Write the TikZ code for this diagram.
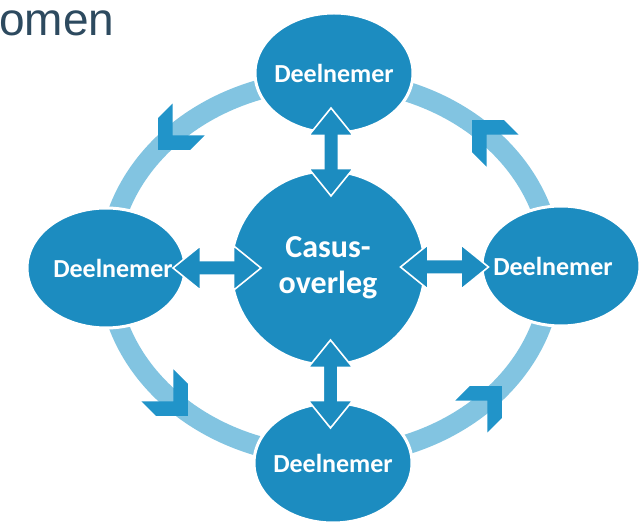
\documentclass[tikz,border=0pt]{standalone}
\usepackage{fontspec}
\setmainfont{Carlito}
\newfontfamily\titelfont{Liberation Sans}
\usetikzlibrary{shapes.geometric,shapes.arrows,calc}
\definecolor{kern}{RGB}{28,140,192}
\definecolor{ring}{RGB}{130,196,225}
\definecolor{pijl}{RGB}{33,148,201}
\definecolor{titel}{RGB}{45,74,95}
\begin{document}
\begin{tikzpicture}[x=1pt,y=1pt,
	deelnemer/.style={ellipse,fill=kern,draw=white,line width=3pt,
		minimum width=158pt,minimum height=120pt,inner sep=0pt,
		text=white,font=\fontsize{26}{30}\selectfont\bfseries},
	wissel/.style={double arrow,fill=kern,draw=white,line width=1.6pt,
		inner sep=0pt,inner ysep=6.5pt,double arrow head extend=15pt,
		double arrow tip angle=78,minimum height=88pt}]
\useasboundingbox (0,0) rectangle (640,525);
\node[anchor=base west,inner sep=0pt,text=titel,
	font=\titelfont\fontsize{46}{56}\selectfont] (titel) at (-1,489) {omen};
\draw[ring,line width=20pt] (330,257) ellipse [x radius=222,y radius=188];
\foreach \a/\r in {45/135,135/225,225/315,315/45}{
\fill[pijl,shift={(330,257)},shift={(\a:222pt and 188pt)},rotate=\r]
	(21,0)--(-1.6,22.6)--(-22,22.6)--(0.6,0)--(-22,-22.6)--(-1.6,-22.6)--cycle;
};
\node[circle,fill=kern,draw=white,line width=3pt,minimum size=194pt,
	inner sep=0pt,text=white,align=center,
	font=\fontsize{32}{36}\selectfont\bfseries] (overleg) at (328,257)
	{Casus-\\overleg};
\node[deelnemer] (boven) at (334,452) {\makebox[0pt]{Deelnemer}};
\node[deelnemer] (links) at (106,257) {\makebox[0pt]{\hspace*{14pt}Deelnemer}};
\node[deelnemer] (rechts) at (561,259) {\makebox[0pt]{Deelnemer\hspace*{16pt}}};
\node[deelnemer] (onder) at (333,62) {\makebox[0pt]{Deelnemer}};
\node[wissel,rotate=90] (w-boven) at ($(overleg.north)!.5!(boven.south)$) {};
\node[wissel,rotate=90] (w-onder) at ($(overleg.south)!.5!(onder.north)$) {};
\node[wissel] (w-links) at ($(overleg)!.5!(links)$) {};
\node[wissel] (w-rechts) at ($(overleg)!.5!(rechts)$) {};
\end{tikzpicture}
\end{document}
